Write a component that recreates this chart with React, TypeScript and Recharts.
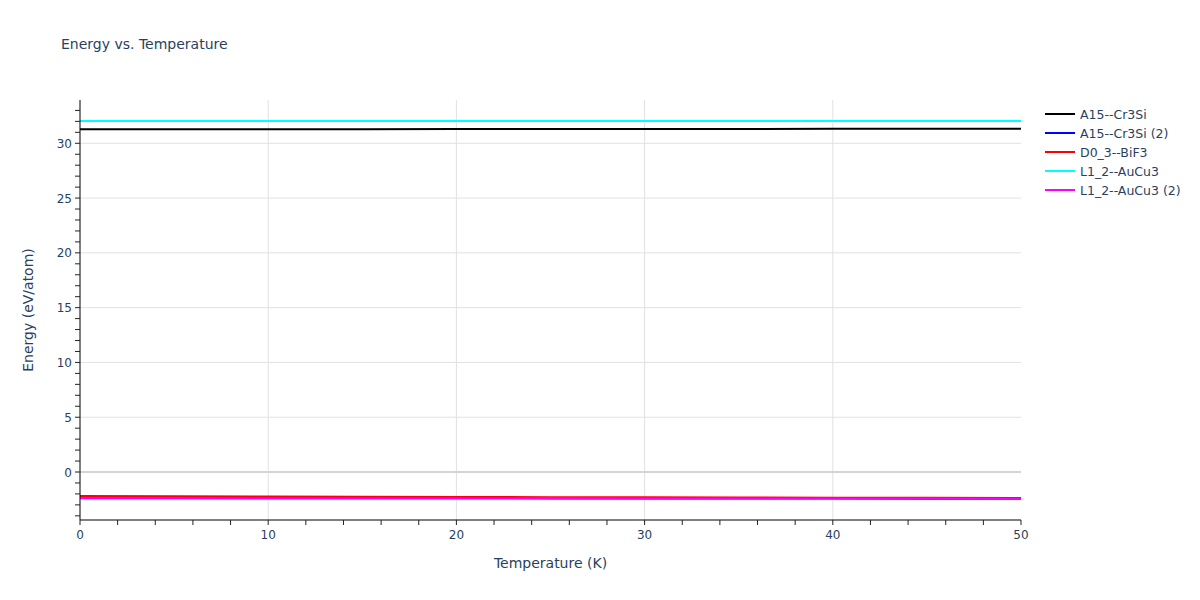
import React from 'react';
import { LineChart, Line, XAxis, YAxis, CartesianGrid, Legend, ReferenceLine } from 'recharts';

const temperatures = [0, 5, 10, 15, 20, 25, 30, 35, 40, 45, 50];
const a15Cr3Si = [31.28, 31.28, 31.29, 31.29, 31.3, 31.3, 31.31, 31.31, 31.32, 31.32, 31.33];
const a15Cr3Si2 = [-2.39, -2.39, -2.4, -2.4, -2.4, -2.41, -2.41, -2.42, -2.42, -2.43, -2.43];
const d03BiF3 = [-2.2, -2.22, -2.24, -2.26, -2.28, -2.3, -2.31, -2.33, -2.35, -2.36, -2.38];
const l12AuCu3 = [32.03, 32.03, 32.03, 32.03, 32.03, 32.03, 32.03, 32.03, 32.03, 32.03, 32.03];
const l12AuCu32 = [-2.38, -2.38, -2.39, -2.39, -2.4, -2.4, -2.41, -2.41, -2.42, -2.42, -2.43];

const seriesNames = ['A15--Cr3Si', 'A15--Cr3Si (2)', 'D0_3--BiF3', 'L1_2--AuCu3', 'L1_2--AuCu3 (2)'];
const seriesColors = ['#000000', '#0000ff', '#ff0000', '#00ffff', '#ff00ff'];
const seriesValues = [a15Cr3Si, a15Cr3Si2, d03BiF3, l12AuCu3, l12AuCu32];

const yMajor = [0, 5, 10, 15, 20, 25, 30];
const yMinor = [-4, -3, -2, -1, 0, 1, 2, 3, 4, 5, 6, 7, 8, 9, 10, 11, 12, 13, 14, 15, 16, 17, 18, 19, 20, 21, 22, 23, 24, 25, 26, 27, 28, 29, 30, 31, 32, 33];
const xMajor = [0, 10, 20, 30, 40, 50];
const xMinor = [0, 2, 4, 6, 8, 10, 12, 14, 16, 18, 20, 22, 24, 26, 28, 30, 32, 34, 36, 38, 40, 42, 44, 46, 48, 50];

const data = temperatures.map((t, i) => {
  const row: Record<string, number> = { t };
  seriesNames.forEach((n, k) => {
    row[n] = seriesValues[k][i];
  });
  return row;
});

const FONT = '"DejaVu Sans", Verdana, sans-serif';
const TEXT = '#2a3f5f';

const YTick = (props: any) => {
  const { x, y, payload } = props;
  const v = payload.value;
  const major = yMajor.includes(v);
  return (
    <g>
      <line x1={x - 5} x2={x} y1={y} y2={y} stroke="#222" strokeWidth={1} />
      {major && (
        <text x={x - 8} y={y} dy={4.5} textAnchor="end" fontSize={12} fill={TEXT} fontFamily={FONT}>
          {v}
        </text>
      )}
    </g>
  );
};

const XTick = (props: any) => {
  const { x, y, payload } = props;
  const v = payload.value;
  const major = xMajor.includes(v);
  return (
    <g>
      <line x1={x} x2={x} y1={y} y2={y + 5} stroke="#222" strokeWidth={1} />
      {major && (
        <text x={x} y={y + 19} textAnchor="middle" fontSize={12} fill={TEXT} fontFamily={FONT}>
          {v}
        </text>
      )}
    </g>
  );
};

const renderLegend = () => (
  <svg width={155} height={100}>
    {seriesNames.map((n, i) => (
      <g key={n}>
        <line x1={0} x2={30} y1={10 + i * 19} y2={10 + i * 19} stroke={seriesColors[i]} strokeWidth={2} />
        <text x={35} y={10 + i * 19} dy={4.5} fontSize={12.5} fill={TEXT} fontFamily={FONT}>
          {n}
        </text>
      </g>
    ))}
  </svg>
);

export default function App() {
  return (
    <div style={{ position: 'absolute', left: 0, top: 0, width: 1200, height: 600, background: '#fff' }}>
      <div
        style={{
          position: 'absolute',
          left: 61,
          top: 36,
          fontFamily: FONT,
          fontSize: 14,
          color: TEXT,
          whiteSpace: 'nowrap',
        }}
      >
        Energy vs. Temperature
      </div>
      <LineChart width={1200} height={600} data={data} margin={{ top: 100, right: 179, bottom: 50, left: 30 }}>
        <CartesianGrid
          stroke="#e1e1e1"
          horizontalValues={yMajor}
          verticalValues={[10, 20, 30, 40]}
        />
        <ReferenceLine y={0} stroke="#d4d4d4" strokeWidth={2} />
        <XAxis
          dataKey="t"
          type="number"
          domain={[0, 50]}
          ticks={xMinor}
          interval={0}
          tick={<XTick />}
          tickLine={false}
          tickSize={0}
          tickMargin={0}
          height={30}
          axisLine={{ stroke: '#000', strokeWidth: 1 }}
          label={{ value: 'Temperature (K)', position: 'insideBottom', offset: -18, fill: TEXT, fontSize: 14, fontFamily: FONT }}
        />
        <YAxis
          type="number"
          domain={[-4.38, 33.95]}
          allowDataOverflow
          ticks={yMinor}
          interval={0}
          tick={<YTick />}
          tickLine={false}
          tickSize={0}
          tickMargin={0}
          width={50}
          axisLine={{ stroke: '#000', strokeWidth: 1 }}
          label={{ value: 'Energy (eV/atom)', angle: -90, position: 'insideLeft', offset: -2, fill: TEXT, fontSize: 14, fontFamily: FONT, style: { textAnchor: 'middle' } }}
        />
        <Legend
          content={renderLegend}
          layout="horizontal"
          verticalAlign="middle"
          align="center"
          wrapperStyle={{ position: 'absolute', left: 1045, top: 104, width: 155, height: 100 }}
        />
        {seriesNames.map((n, i) => (
          <Line
            key={n}
            dataKey={n}
            stroke={seriesColors[i]}
            strokeWidth={2}
            dot={false}
            activeDot={false}
            isAnimationActive={false}
            type="linear"
          />
        ))}
      </LineChart>
    </div>
  );
}
